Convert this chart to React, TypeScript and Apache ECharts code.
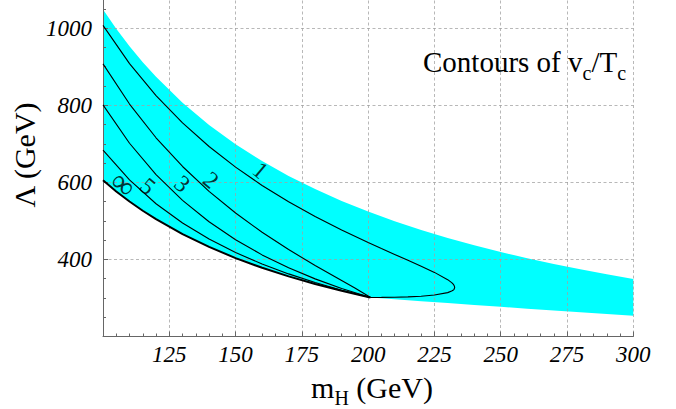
import React, { useEffect, useRef } from "react";
import * as echarts from "echarts";

// x-axis: Higgs mass m_H (GeV); y-axis: cutoff Λ (GeV)
const xTickValues = [100, 125, 150, 175, 200, 225, 250, 275, 300];
const yTickValues = [200, 400, 600, 800, 1000];

// upper edge of the cyan region
const upperX = [100, 105, 110, 115, 120, 130, 140, 150, 160, 170, 180, 190, 200, 210, 220, 230, 240, 250, 260, 270, 280, 290, 300];
const upperY = [1048.2, 998.3, 952.9, 911.5, 873.5, 806.3, 748.7, 698.8, 655.1, 616.6, 582.3, 551.7, 524.1, 499.1, 476.4, 455.7, 436.7, 419.3, 403.1, 388.2, 374.3, 361.4, 349.4];

// lower edge of the cyan region
const lowerX = [100, 105, 110, 115, 120, 130, 140, 150, 160, 170, 180, 190, 200, 200.86, 210, 220, 230, 240, 250, 260, 270, 280, 290, 300];
const lowerY = [605.2, 576.3, 550.1, 526.2, 504.3, 465.5, 432.3, 403.4, 378.2, 356.0, 336.2, 318.5, 302.6, 301.3, 296.7, 291.7, 286.8, 281.9, 277.0, 272.2, 267.5, 262.8, 258.2, 253.7];

// contour v_c/T_c = ∞
const cInfX = [100, 105, 110, 115, 120, 130, 140, 150, 160, 170, 180, 190, 200, 200.86];
const cInfY = [605.2, 576.3, 550.1, 526.2, 504.3, 465.5, 432.3, 403.4, 378.2, 356.0, 336.2, 318.5, 302.6, 301.3];

// contour v_c/T_c = 5
const c5X = [100, 110, 120, 130, 140, 150, 160, 170, 180, 190, 200, 200.86];
const c5Y = [683.7, 606.1, 544.4, 494.3, 452.8, 417.8, 388.1, 362.4, 339.9, 320.2, 302.7, 301.3];

// contour v_c/T_c = 3
const c3X = [100, 110, 120, 130, 140, 150, 160, 170, 180, 190, 200, 200.86];
const c3Y = [801.0, 701.3, 620.1, 553.2, 497.6, 451.1, 411.7, 378.3, 349.5, 324.7, 303.0, 301.3];

// contour v_c/T_c = 2
const c2X = [100, 110, 120, 130, 140, 150, 160, 170, 180, 190, 195, 200, 200.86];
const c2Y = [907.1, 803.0, 715.5, 641.0, 576.6, 520.3, 470.4, 425.5, 384.4, 345.3, 325.7, 305.1, 301.3];

// contour v_c/T_c = 1 (closed loop back to the cusp)
const c1X = [100, 110, 120, 130, 140, 150, 160, 170, 180, 190, 200, 205, 210, 215, 220, 225, 230, 231.5, 232, 232.4, 232.65, 232.4, 232, 231.5, 230, 225, 220, 215, 210, 205, 200.86];
const c1Y = [1007.0, 908.0, 824.9, 754.1, 692.9, 639.3, 591.9, 549.6, 511.3, 476.2, 443.7, 428.2, 412.9, 397.7, 382.4, 366.3, 347.4, 339.7, 336.3, 332.7, 327.3, 322.5, 319.9, 317.8, 313.8, 307.5, 304.5, 302.8, 301.9, 301.4, 301.3];

// contour labels
const labelTexts = ["∞", "5", "3", "2", "1"];
const labelX = [107.8, 116.9, 129.9, 140.7, 159.4];
const labelY = [596, 590, 596, 606, 631];

const serif = "'Liberation Serif', 'Times New Roman', serif";
const SHIFT = 49; // chart div extends above the page top

function pairs(xs: number[], ys: number[]) {
  return xs.map((x, i) => [x, ys[i]]);
}

export default function App() {
  const ref = useRef<HTMLDivElement>(null);

  useEffect(() => {
    document.body.style.margin = "0";
    document.body.style.overflow = "hidden";
    if (!ref.current) return;
    const chart = echarts.init(ref.current, undefined, { renderer: "svg" });

    const band = [...pairs(upperX, upperY), ...pairs(lowerX, lowerY).reverse()];

    const contourLine = (name: string, xs: number[], ys: number[], width: number) => ({
      name,
      type: "line",
      data: pairs(xs, ys),
      showSymbol: false,
      symbol: "none",
      smooth: false,
      silent: true,
      z: 10,
      lineStyle: { color: "#000", width },
    });

    const axisColor = "#666";
    const gridLine = { color: "rgba(160,160,160,0.75)", type: [3, 2.5], width: 1 };

    const option: any = {
      animation: false,
      grid: { left: 103, right: 42.7, top: 0, bottom: 72.5, containLabel: false },
      xAxis: {
        type: "value",
        min: xTickValues[0],
        max: xTickValues[xTickValues.length - 1],
        interval: 25,
        z: 3,
        axisLine: { show: true, onZero: false, lineStyle: { color: axisColor, width: 1 } },
        axisTick: { show: true, inside: true, length: 5, lineStyle: { color: axisColor } },
        minorTick: { show: true, splitNumber: 5, length: 3, lineStyle: { color: axisColor } },
        splitLine: { show: true, lineStyle: gridLine },
        axisLabel: {
          showMinLabel: false,
          showMaxLabel: true,
          margin: 6,
          fontFamily: serif,
          fontStyle: "italic",
          fontSize: 23,
          color: "#000",
          formatter: (v: number) => String(v),
        },
      },
      yAxis: {
        type: "value",
        min: yTickValues[0],
        max: 1200,
        interval: 200,
        z: 3,
        axisLine: { show: true, onZero: false, lineStyle: { color: axisColor, width: 1 } },
        axisTick: { show: true, inside: true, length: 5, lineStyle: { color: axisColor } },
        minorTick: { show: true, splitNumber: 4, length: 3, lineStyle: { color: axisColor } },
        splitLine: { show: true, lineStyle: gridLine },
        axisLabel: {
          showMinLabel: false,
          showMaxLabel: false,
          margin: 11,
          fontFamily: serif,
          fontStyle: "italic",
          fontSize: 23,
          color: "#000",
          formatter: (v: number) => String(v),
        },
      },
      series: [
        {
          type: "custom",
          silent: true,
          z: 1,
          data: [[100, 200]],
          renderItem: (_params: any, api: any) => ({
            type: "polygon",
            shape: { points: band.map((p) => api.coord(p)) },
            style: { fill: "#00ffff", stroke: "none" },
          }),
        },
        contourLine("inf", cInfX, cInfY, 2),
        contourLine("5", c5X, c5Y, 1.1),
        contourLine("3", c3X, c3Y, 1.1),
        contourLine("2", c2X, c2Y, 1.1),
        contourLine("1", c1X, c1Y, 1.1),
        {
          type: "scatter",
          silent: true,
          z: 11,
          symbolSize: 1,
          itemStyle: { color: "rgba(0,0,0,0)" },
          data: labelTexts.map((t, i) => ({
            name: t,
            value: [labelX[i], labelY[i]],
            label: t === "∞" ? { fontSize: 32 } : undefined,
          })),
          label: {
            show: true,
            position: "inside",
            formatter: "{b}",
            rotate: -40,
            fontFamily: serif,
            fontSize: 24,
            color: "#000",
          },
        },
      ],
      graphic: [
        {
          type: "text",
          x: 423,
          y: 65 + SHIFT,
          z: 20,
          style: {
            text: "{a|Contours of v}{s|c}{a|/T}{s|c}",
            textAlign: "left",
            textVerticalAlign: "middle",
            fill: "#000",
            rich: {
              a: { fontFamily: serif, fontSize: 29, lineHeight: 35, verticalAlign: "top", fill: "#000" },
              s: { fontFamily: serif, fontSize: 20, lineHeight: 20, verticalAlign: "bottom", fill: "#000" },
            },
          },
        },
        {
          type: "text",
          x: 372,
          y: 390 + SHIFT,
          z: 20,
          style: {
            text: "{a|m}{s|H}{a| (GeV)}",
            textAlign: "center",
            textVerticalAlign: "middle",
            fill: "#000",
            rich: {
              a: { fontFamily: serif, fontSize: 30, lineHeight: 36, verticalAlign: "top", fill: "#000" },
              s: { fontFamily: serif, fontSize: 20, lineHeight: 20, verticalAlign: "bottom", fill: "#000" },
            },
          },
        },
        {
          type: "text",
          x: 24,
          y: 155 + SHIFT,
          rotation: Math.PI / 2,
          z: 20,
          style: {
            text: "Λ (GeV)",
            fontFamily: serif,
            fontSize: 30,
            textAlign: "center",
            textVerticalAlign: "middle",
            fill: "#000",
          },
        },
      ],
    };

    chart.setOption(option);
    return () => chart.dispose();
  }, []);

  return <div ref={ref} style={{ width: 676, height: 409 + SHIFT, marginTop: -SHIFT }} />;
}
